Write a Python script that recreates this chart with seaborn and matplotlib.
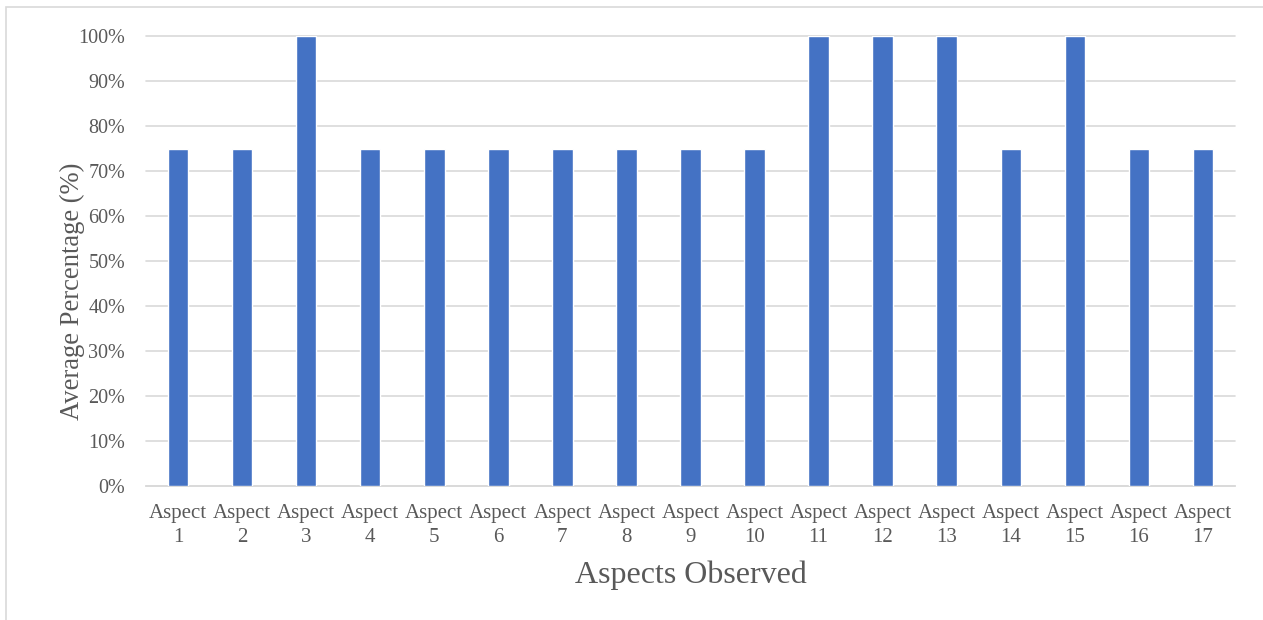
import matplotlib
matplotlib.use("Agg")
import matplotlib.pyplot as plt
import matplotlib.patches as mpatches
from matplotlib.ticker import PercentFormatter, MultipleLocator
import seaborn as sns
import pandas as pd

aspects = [f"Aspect\n{i}" for i in range(1, 18)]
average_pct = [0.75, 0.75, 1.00, 0.75, 0.75, 0.75, 0.75, 0.75, 0.75, 0.75,
               1.00, 1.00, 1.00, 0.75, 1.00, 0.75, 0.75]

df = pd.DataFrame({"aspect": aspects, "pct": average_pct})

sns.set_theme(style="white")
plt.rcParams["font.family"] = ["Liberation Serif", "DejaVu Serif"]

fig = plt.figure(figsize=(12.63, 6.2), dpi=100)
ax = fig.add_axes([0.1156, 0.2161, 0.8622, 0.7258])

sns.barplot(data=df, x="aspect", y="pct", color="#4472C4", saturation=1,
            width=0.32, ax=ax, zorder=3)

ax.set_ylim(0, 1)
ax.set_xlim(-0.5, len(aspects) - 0.5)
ax.yaxis.set_major_locator(MultipleLocator(0.1))
ax.yaxis.set_major_formatter(PercentFormatter(1.0, decimals=0))
ax.grid(axis="y", color="#d9d9d9", linewidth=1.2, zorder=0)
for g in ax.get_ygridlines():
    g.set_clip_on(False)
for s in ["top", "right", "left"]:
    ax.spines[s].set_visible(False)
ax.spines["bottom"].set_color("#d9d9d9")
ax.spines["bottom"].set_linewidth(1.2)
ax.tick_params(axis="both", length=0, colors="#595959")
ax.tick_params(axis="y", labelsize=14.5, pad=15)
ax.tick_params(axis="x", labelsize=15, pad=13)
for t in ax.get_xticklabels():
    t.set_linespacing(1.35)

ax.set_xlabel("Aspects Observed", fontsize=23, color="#595959", labelpad=10)
ax.set_ylabel("Average Percentage (%)", fontsize=19.2, color="#595959")
ax.yaxis.label.set_va("center")
ax.yaxis.set_label_coords(-0.068, 0.433)

# light chart-area border
fig.patches.append(mpatches.Rectangle((6 / 1263, -0.05), 1.2, 1 - 7 / 620 + 0.05,
                                      transform=fig.transFigure, fill=False,
                                      edgecolor="#d9d9d9", linewidth=1.2))

fig.savefig("out.png", dpi=100, facecolor="white")
